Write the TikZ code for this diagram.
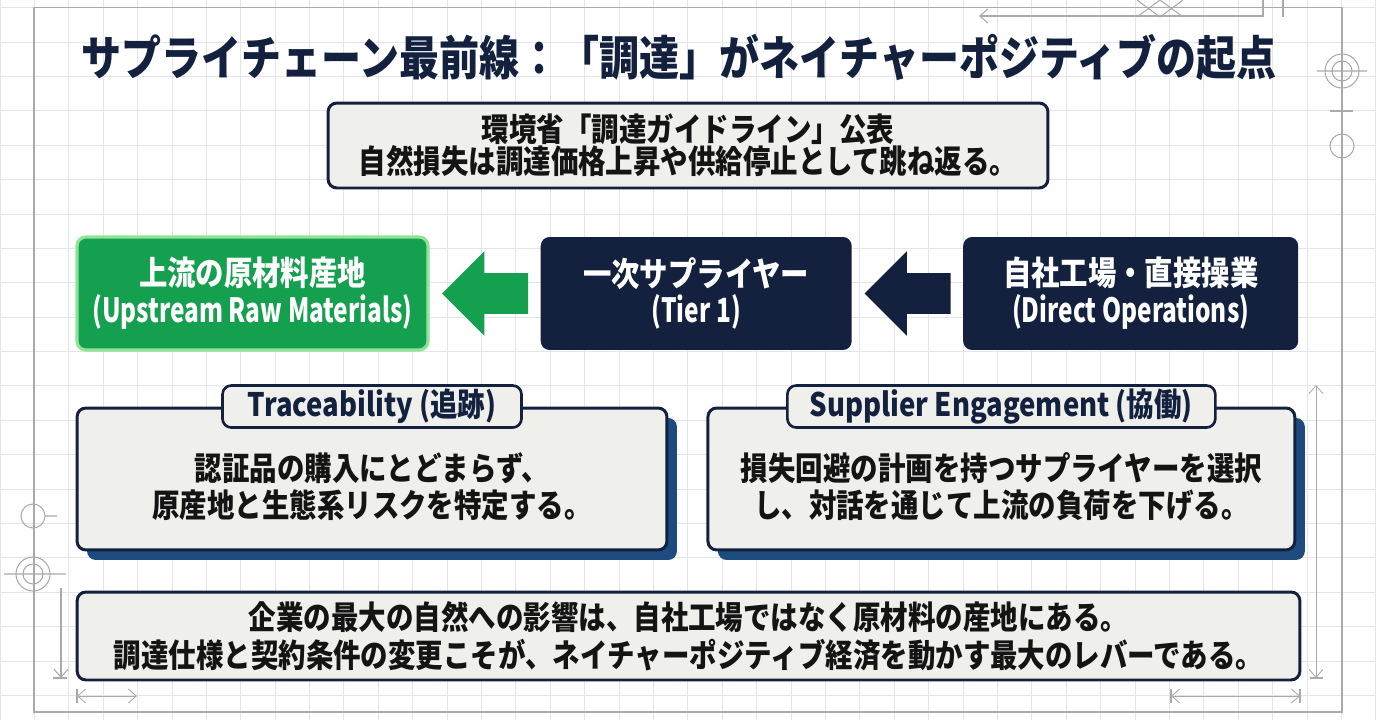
\documentclass[tikz,border=0pt]{standalone}
\usepackage{fontspec}
\setmainfont{Noto Sans CJK JP}[FakeStretch=0.85]
\newfontfamily\rowLatin{Noto Sans CJK JP}[FakeStretch=0.73]
\usetikzlibrary{arrows.meta, positioning, shapes.arrows, shadows, calc}
\definecolor{scNavy}{HTML}{13213F}
\definecolor{scGreen}{HTML}{14A04E}
\definecolor{scGlow}{HTML}{8FE296}
\definecolor{scPanel}{HTML}{EFEFEB}
\definecolor{scShadow}{HTML}{1D4B80}
\definecolor{scGrid}{HTML}{E2E5E9}
\definecolor{scLine}{HTML}{AAAAAA}
\definecolor{scInk}{HTML}{141414}
\tikzset{
  gridR/.style={draw=scGrid, line width=0.5pt},
  lineG/.style={draw=scLine, line width=0.6pt},
  dimG/.style={draw=scLine, line width=0.5pt,
    {Straight Barb[length=1.6mm, width=2.8mm]}-{Straight Barb[length=1.6mm, width=2.8mm]}},
  titleT/.style={text=scNavy, font=\bfseries\fontsize{26.8}{30}\selectfont},
  boxW/.style={rectangle, rounded corners=5pt, draw=scNavy, line width=1.7pt,
               fill=scPanel, text=scInk, align=center, inner sep=0pt},
  boxG/.style={rectangle, rounded corners=5pt, draw=scGlow, line width=1.8pt,
               fill=scGreen, text=white, align=center, minimum height=2.26cm,
               inner sep=0pt, font=\bfseries\fontsize{19}{21}\selectfont},
  boxN/.style={rectangle, rounded corners=5pt, fill=scNavy, text=white,
               align=center, minimum height=2.26cm, inner sep=0pt,
               font=\bfseries\fontsize{19}{21}\selectfont},
  arrowBk/.style={single arrow, shape border rotate=180, inner xsep=0pt,
                  inner ysep=0.4cm, minimum height=1.72cm,
                  single arrow head extend=0.44cm},
  panelW/.style={boxW, minimum height=2.84cm,
                 drop shadow={shadow xshift=0.2cm, shadow yshift=-0.2cm,
                              fill=scShadow, opacity=1}},
  tabW/.style={boxW, line width=1.5pt, text=scNavy, minimum height=0.84cm,
               font=\bfseries\fontsize{18.4}{20}\selectfont},
  bodyT/.style={text=scInk, align=center, font=\bfseries\fontsize{18.4}{21}\selectfont},
}
\begin{document}
\begin{tikzpicture}[x=0.02cm, y=-0.02cm, node distance=0.24cm]
  \useasboundingbox (0,0) rectangle (1376,720);
  \fill[white] (0,0) rectangle (1376,720);
  \draw[gridR, shift={(0,7.6)}] (0,712.4) grid[step=0.688cm] (1376,-7.6);

  % frame and drafting marks
  \draw[lineG] (34,7.6) rectangle (1342,712);
  \draw[lineG, {Straight Barb[length=1.6mm, width=2.8mm]}-] (979,16) -- (1263,16) -- (1263,0);
  \draw[lineG] (1283,0) -- (1283,17);
  \draw[lineG] (1137,0) -- (1160,17) (1160,0) -- (1137,17)
               (1160,0) -- (1183,17) (1183,0) -- (1160,17);
  \draw[lineG] (1342,71) circle[radius=17] (1342,71) circle[radius=10]
               (1317,71) -- (1367,71);
  \draw[lineG] (1330,111) -- (1353,111);
  \draw[lineG] (1342,146) circle[radius=12];
  \draw[lineG] (33,516) circle[radius=12] (45,516) -- (57,516);
  \draw[lineG] (33,574) circle[radius=17] (33,574) circle[radius=10]
               (4,574) -- (66,574);
  \draw[lineG, -{Straight Barb[length=1.6mm, width=2.8mm]}] (61,588) -- (61,678);
  \draw[lineG] (53,678) -- (67,678);
  \draw[dimG] (77,696) -- (137,696);
  \draw[lineG] (77,689) -- (77,703);
  \draw[dimG] (1316,385) -- (1316,678);
  \draw[lineG] (1310,678) -- (1323,678);
  \draw[dimG] (1171,696) -- (1300,696);
  \draw[lineG] (1171,689) -- (1171,703) (1300,689) -- (1300,703);

  \node[titleT] (title) at (679,57) {サプライチェーン最前線：「調達」がネイチャーポジティブの起点};
  \node[boxW, minimum width=14.4cm, minimum height=1.7cm,
        font=\bfseries\fontsize{18.4}{18.4}\selectfont] (guide) at (688,145.5)
        {環境省「調達ガイドライン」公表\\自然損失は調達価格上昇や供給停止として跳ね返る。};

  \node[boxG, minimum width=7.02cm] (raw) at (252.5,293.5) {上流の原材料産地\\{\rowLatin (Upstream Raw Materials)}};
  \node[arrowBk, fill=scGreen, right=of raw] (toRaw) {};
  \node[boxN, minimum width=6.22cm, right=of toRaw] (tier) {一次サプライヤー\\{\rowLatin (Tier 1)}};
  \node[arrowBk, fill=scNavy, right=of tier] (toTier) {};
  \node[boxN, minimum width=6.7cm, right=of toTier] (ops) {自社工場・直接操業\\{\rowLatin (Direct Operations)}};

  \node[panelW, minimum width=11.8cm] (trace) at (372,479) {};
  \node[panelW, minimum width=11.74cm, right=0.76cm of trace] (engage) {};
  \node[tabW, minimum width=5.98cm] (traceTab) at (trace.north) {Traceability (追跡)};
  \node[tabW, minimum width=8.56cm] (engageTab) at (engage.north) {Supplier Engagement (協働)};
  \node[bodyT] (traceTxt) at ([yshift=-0.16cm]trace.center)
        {認証品の購入にとどまらず、\\原産地と生態系リスクを特定する。};
  \node[bodyT] (engageTxt) at ([yshift=-0.16cm]engage.center)
        {損失回避の計画を持つサプライヤーを選択\\し、対話を通じて上流の負荷を下げる。};

  \node[boxW, minimum width=24.46cm, minimum height=1.76cm,
        font=\bfseries\fontsize{18.4}{21.6}\selectfont] (lever) at (688.5,636)
        {企業の最大の自然への影響は、自社工場ではなく原材料の産地にある。\\調達仕様と契約条件の変更こそが、ネイチャーポジティブ経済を動かす最大のレバーである。};
\end{tikzpicture}
\end{document}
